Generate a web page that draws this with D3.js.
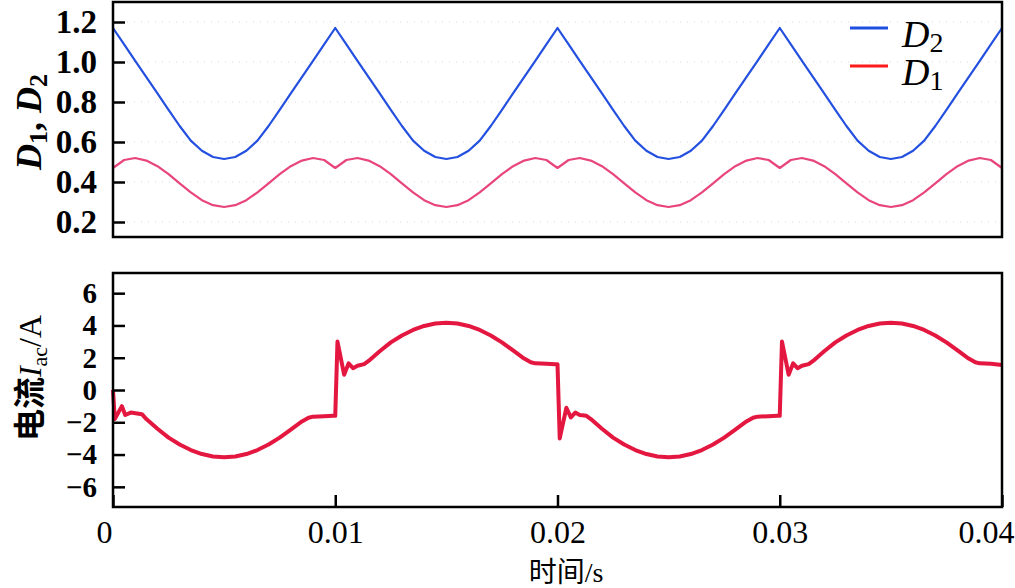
<!DOCTYPE html>
<html>
<head>
<meta charset="utf-8">
<script src="https://cdn.jsdelivr.net/npm/d3@7"></script>
<style>
    body { margin: 0; background: #fff; }
    svg text { font-family: "Liberation Serif", "Noto Sans CJK SC", serif !important; fill: #000; }
</style>
</head>
<body>
<script>
// sample time for the duty-cycle curves (0.5 ms step)
var dutyTime = d3.range(0, 81).map(function (i) { return i * 0.0005; });

// D2
var d2Values = [
    1.17, 1.088, 1.006, 0.924, 0.843, 0.761, 0.68, 0.607, 0.556, 0.525, 0.515, 0.525, 0.556, 0.607, 0.68, 0.761, 0.843, 0.924, 1.006, 1.088,
    1.17, 1.088, 1.006, 0.924, 0.843, 0.761, 0.68, 0.607, 0.556, 0.525, 0.515, 0.525, 0.556, 0.607, 0.68, 0.761, 0.843, 0.924, 1.006, 1.088,
    1.17, 1.088, 1.006, 0.924, 0.843, 0.761, 0.68, 0.607, 0.556, 0.525, 0.515, 0.525, 0.556, 0.607, 0.68, 0.761, 0.843, 0.924, 1.006, 1.088,
    1.17, 1.088, 1.006, 0.924, 0.843, 0.761, 0.68, 0.607, 0.556, 0.525, 0.515, 0.525, 0.556, 0.607, 0.68, 0.761, 0.843, 0.924, 1.006, 1.088,
    1.17
];

// D1 (notch at every zero crossing)
var d1Values = [
    0.47, 0.51, 0.52, 0.507, 0.479, 0.439, 0.393, 0.348, 0.309, 0.284, 0.275, 0.284, 0.309, 0.348, 0.393, 0.439, 0.479, 0.507, 0.52, 0.51,
    0.47, 0.51, 0.52, 0.507, 0.479, 0.439, 0.393, 0.348, 0.309, 0.284, 0.275, 0.284, 0.309, 0.348, 0.393, 0.439, 0.479, 0.507, 0.52, 0.51,
    0.47, 0.51, 0.52, 0.507, 0.479, 0.439, 0.393, 0.348, 0.309, 0.284, 0.275, 0.284, 0.309, 0.348, 0.393, 0.439, 0.479, 0.507, 0.52, 0.51,
    0.47, 0.51, 0.52, 0.507, 0.479, 0.439, 0.393, 0.348, 0.309, 0.284, 0.275, 0.284, 0.309, 0.348, 0.393, 0.439, 0.479, 0.507, 0.52, 0.51,
    0.47
];

// Iac (time in s, current in A)
var iacTime = [
    0, 0.00008, 0.0004, 0.00055, 0.0008, 0.0013, 0.0015, 0.002, 0.0025, 0.003, 0.0035, 0.004, 0.0045, 0.005, 0.0055, 0.006, 0.0065, 0.007, 0.0075, 0.008, 0.0085, 0.0088, 0.009, 0.0095, 0.0099,
    0.01, 0.0101, 0.0104, 0.0106, 0.0108, 0.011, 0.0113, 0.0115, 0.012, 0.0125, 0.013, 0.0135, 0.014, 0.0145, 0.015, 0.0155, 0.016, 0.0165, 0.017, 0.0175, 0.018, 0.0185, 0.0188, 0.019, 0.0195, 0.0199,
    0.02, 0.0201, 0.0204, 0.0206, 0.0208, 0.021, 0.0213, 0.0215, 0.022, 0.0225, 0.023, 0.0235, 0.024, 0.0245, 0.025, 0.0255, 0.026, 0.0265, 0.027, 0.0275, 0.028, 0.0285, 0.0288, 0.029, 0.0295, 0.0299,
    0.03, 0.0301, 0.0304, 0.0306, 0.0308, 0.031, 0.0313, 0.0315, 0.032, 0.0325, 0.033, 0.0335, 0.034, 0.0345, 0.035, 0.0355, 0.036, 0.0365, 0.037, 0.0375, 0.038, 0.0385, 0.0388, 0.039, 0.0395, 0.04
];
var iacValues = [
    0, -1.8, -1.0, -1.55, -1.4, -1.5, -1.8, -2.4, -2.95, -3.38, -3.72, -3.97, -4.12, -4.17, -4.12, -3.97, -3.72, -3.38, -2.95, -2.45, -1.95, -1.72, -1.65, -1.62, -1.6,
    -1.6, 3.0, 0.95, 1.65, 1.35, 1.5, 1.6, 1.8, 2.4, 2.95, 3.38, 3.72, 3.97, 4.12, 4.17, 4.12, 3.97, 3.72, 3.38, 2.95, 2.45, 1.95, 1.72, 1.65, 1.62, 1.6,
    1.6, -3.0, -1.1, -1.7, -1.4, -1.55, -1.6, -1.8, -2.4, -2.95, -3.38, -3.72, -3.97, -4.12, -4.17, -4.12, -3.97, -3.72, -3.38, -2.95, -2.45, -1.95, -1.72, -1.65, -1.62, -1.6,
    -1.6, 3.0, 0.95, 1.65, 1.35, 1.5, 1.6, 1.8, 2.4, 2.95, 3.38, 3.72, 3.97, 4.12, 4.17, 4.12, 3.97, 3.72, 3.38, 2.95, 2.45, 1.95, 1.72, 1.65, 1.62, 1.55
];

var xTicks = [0, 0.01, 0.02, 0.03, 0.04];
var dTicks = [0.2, 0.4, 0.6, 0.8, 1.0, 1.2];
var iTicks = [-6, -4, -2, 0, 2, 4, 6];

window.onload = function () {

    var w = 1015, h = 588;
    var left = 113, right = 1002;
    var top1 = 2, bottom1 = 237;
    var top2 = 273, bottom2 = 507;
    var serif = "'Liberation Serif', 'Noto Sans CJK SC', serif";

    var svg = d3.select("body")
        .append("svg")
        .attr("width", w)
        .attr("height", h);

    var x = d3.scaleLinear()
        .domain([0, 0.04])
        .range([left, right]);

    var yD = d3.scaleLinear()
        .domain([0.125, 1.3])
        .range([bottom1, top1]);

    var yI = d3.scaleLinear()
        .domain([-7.25, 7.25])
        .range([bottom2, top2]);

    // faint dotted grid in the top panel
    svg.selectAll(".grid")
        .data(dTicks)
        .enter()
        .append("line")
        .attr("class", "grid")
        .attr("x1", left)
        .attr("x2", right)
        .attr("y1", function (d) { return yD(d); })
        .attr("y2", function (d) { return yD(d); })
        .style("stroke", "#d8d8d8")
        .style("stroke-width", 1)
        .style("stroke-dasharray", "1,6");

    var dLine = d3.line()
        .x(function (d, i) { return x(dutyTime[i]); })
        .y(function (d) { return yD(d); });

    svg.append("path")
        .datum(d1Values)
        .attr("d", dLine)
        .style("fill", "none")
        .style("stroke", "#e8457e")
        .style("stroke-width", 2.2)
        .style("stroke-linejoin", "round");

    svg.append("path")
        .datum(d2Values)
        .attr("d", dLine)
        .style("fill", "none")
        .style("stroke", "#2450e0")
        .style("stroke-width", 2.2)
        .style("stroke-linejoin", "round");

    var iLine = d3.line()
        .x(function (d, i) { return x(iacTime[i]); })
        .y(function (d) { return yI(d); });

    svg.append("path")
        .datum(iacValues)
        .attr("d", iLine)
        .style("fill", "none")
        .style("stroke", "#e3173f")
        .style("stroke-width", 4)
        .style("stroke-linejoin", "round");

    // axes (ticks point inward)
    var axisD = svg.append("g")
        .attr("transform", "translate(" + left + ",0)")
        .call(d3.axisLeft(yD).tickValues(dTicks).tickSizeInner(-12).tickSizeOuter(0)
            .tickPadding(16).tickFormat(d3.format(".1f")));
    axisD.selectAll("text").style("font-family", serif).style("font-size", "33px").style("font-weight", "bold");

    var axisI = svg.append("g")
        .attr("transform", "translate(" + left + ",0)")
        .call(d3.axisLeft(yI).tickValues(iTicks).tickSizeInner(-12).tickSizeOuter(0)
            .tickPadding(16));
    axisI.selectAll("text").style("font-family", serif).style("font-size", "29px").style("font-weight", "bold");

    var axisX = svg.append("g")
        .attr("transform", "translate(0," + bottom2 + ")")
        .call(d3.axisBottom(x).tickValues(xTicks).tickSizeInner(-12).tickSizeOuter(0)
            .tickPadding(13).tickFormat(function (d) { return d === 0 ? "0" : d3.format(".2f")(d); }));
    axisX.selectAll("text")
        .style("font-family", serif)
        .style("font-size", "32px")
        .attr("dx", function (d) { return d === 0 ? -9 : (d === 0.04 ? -16 : 0); });

    svg.selectAll(".domain").remove();
    svg.selectAll(".tick line").style("stroke", "#000").style("stroke-width", 2.5);

    // panel frames
    [[top1, bottom1], [top2, bottom2]].forEach(function (p) {
        svg.append("rect")
            .attr("x", left)
            .attr("y", p[0])
            .attr("width", right - left)
            .attr("height", p[1] - p[0])
            .style("fill", "none")
            .style("stroke", "#000")
            .style("stroke-width", 2.5);
    });

    // legend
    var legend = [
        { name: "2", color: "#1f4fe0", y: 28 },
        { name: "1", color: "#ff1a1a", y: 66 }
    ];
    legend.forEach(function (d) {
        svg.append("line")
            .attr("x1", 850).attr("x2", 888)
            .attr("y1", d.y).attr("y2", d.y)
            .style("stroke", d.color)
            .style("stroke-width", 3);
        var t = svg.append("text")
            .attr("x", 902)
            .attr("y", d.y + 19)
            .style("font-family", serif)
            .style("font-size", "38px");
        t.append("tspan").style("font-style", "italic").text("D");
        t.append("tspan").attr("dy", 5).style("font-size", "28px").text(d.name);
    });

    // y titles
    var t1 = svg.append("text")
        .attr("transform", "translate(41,122) rotate(-90)")
        .attr("text-anchor", "middle")
        .style("font-family", serif)
        .style("font-size", "36px")
        .style("font-weight", "bold");
    t1.append("tspan").style("font-style", "italic").text("D");
    t1.append("tspan").attr("dy", 6).style("font-size", "26px").text("1");
    t1.append("tspan").attr("dy", -6).text(", ");
    t1.append("tspan").style("font-style", "italic").text("D");
    t1.append("tspan").attr("dy", 6).style("font-size", "26px").text("2");

    var t2 = svg.append("text")
        .attr("transform", "translate(41,378) rotate(-90)")
        .attr("text-anchor", "middle")
        .style("font-family", serif)
        .style("font-size", "32px")
        .style("font-weight", "bold");
    t2.append("tspan").text("电流");
    t2.append("tspan").style("font-style", "italic").style("font-weight", "normal").text("I");
    t2.append("tspan").attr("dy", 6).style("font-size", "22px").style("font-weight", "normal").text("ac");
    t2.append("tspan").attr("dy", -6).style("font-weight", "normal").text("/A");

    svg.append("text")
        .attr("x", 566)
        .attr("y", 582)
        .attr("text-anchor", "middle")
        .style("font-family", serif)
        .style("font-size", "28px")
        .text("时间/s");
};
</script>
</body>
</html>
